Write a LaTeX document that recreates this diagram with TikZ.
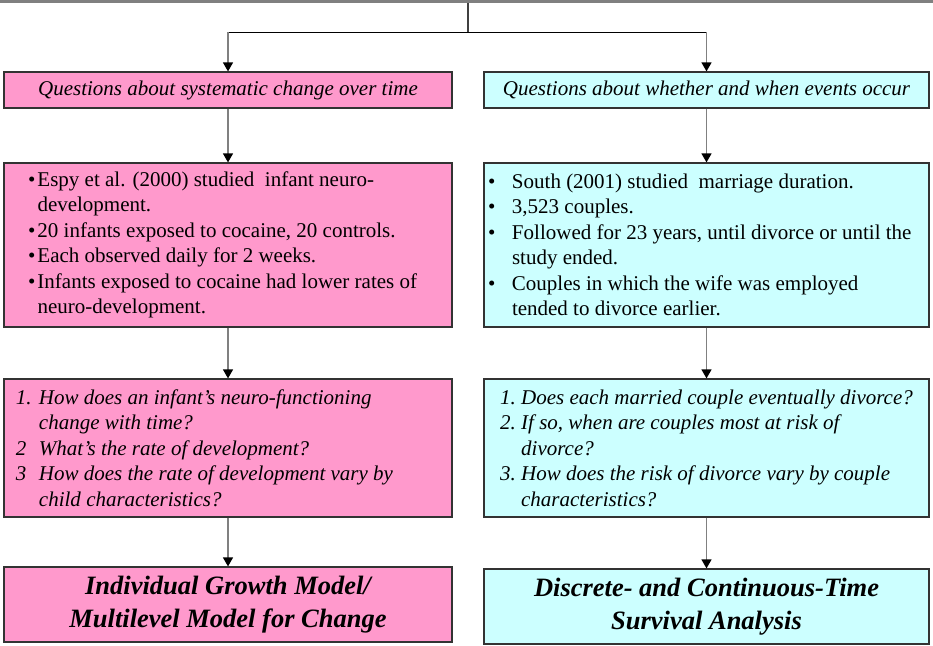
\documentclass[tikz,border=0pt]{standalone}
\usepackage{fontspec}
\setmainfont{Liberation Serif}
\usetikzlibrary{arrows.meta}
\definecolor{boxpink}{HTML}{FF99CC}
\definecolor{boxcyan}{HTML}{CCFFFF}
\newcommand{\lbl}[2]{\makebox[#1][l]{#2}}
\tikzset{
  card/.style={draw=black!80, line width=1.2pt, minimum width=448pt, inner sep=0pt},
  pinkcard/.style={card, fill=boxpink},
  cyancard/.style={card, fill=boxcyan, minimum width=445pt},
  headtxt/.style={font=\fontsize{21}{25.5}\selectfont\itshape},
  bodytxt/.style={align=flush left, font=\fontsize{21}{25.5}\selectfont},
  qtxt/.style={align=flush left, font=\fontsize{21}{25.5}\selectfont\itshape},
  modeltxt/.style={align=center, font=\fontsize{26.5}{33}\selectfont\bfseries\itshape},
  link/.style={draw=gray, line width=1.3pt, -{Triangle[length=9pt,width=10pt,color=black]}}
}
\begin{document}
\begin{tikzpicture}[x=1pt, y=-1pt]
\useasboundingbox (0,0) rectangle (933,645);
\fill[gray] (0,0) rectangle (933,3);
\coordinate (root) at (468,3);
\coordinate (fork) at (468,32);
% kinds of question
\node[pinkcard, minimum height=36pt, headtxt] (qsys) at (228,90) {Questions about systematic change over time};
\node[cyancard, minimum height=36pt, headtxt] (qevt) at (706.5,90) {Questions about whether and when events occur};
% studies
\node[pinkcard, minimum height=164pt, bodytxt, text width=400pt] (egsys) at (228,245) {\lbl{9.5pt}{\textbullet}Espy et al. (2000) studied\ \ infant neuro-\\
\lbl{9.5pt}{}development.\\
\lbl{9.5pt}{\textbullet}20 infants exposed to cocaine, 20 controls.\\
\lbl{9.5pt}{\textbullet}Each observed daily for 2 weeks.\\
\lbl{9.5pt}{\textbullet}Infants exposed to cocaine had lower rates of\\
\lbl{9.5pt}{}neuro-development.};
\node[cyancard, minimum height=164pt, bodytxt, text width=437pt] (egevt) at (706.5,245) {\lbl{24pt}{\textbullet}South (2001) studied\ \ marriage duration.\\
\lbl{24pt}{\textbullet}3,523 couples.\\
\lbl{24pt}{\textbullet}Followed for 23 years, until divorce or until the\\
\lbl{24pt}{}study ended.\\
\lbl{24pt}{\textbullet}Couples in which the wife was employed\\
\lbl{24pt}{}tended to divorce earlier.};
% research questions
\node[pinkcard, minimum height=138pt, qtxt, text width=424pt] (rqsys) at (228,448) {\lbl{23pt}{1.}How does an infant's neuro-functioning\\
\lbl{23pt}{}change with time?\\
\lbl{23pt}{2}What's the rate of development?\\
\lbl{23pt}{3}How does the rate of development vary by\\
\lbl{23pt}{}child characteristics?};
\node[cyancard, minimum height=138pt, qtxt] (rqevt) at (706.5,448) {\lbl{21pt}{1.}Does each married couple eventually divorce?\\
\lbl{21pt}{2.}If so, when are couples most at risk of\\
\lbl{21pt}{}divorce?\\
\lbl{21pt}{3.}How does the risk of divorce vary by couple\\
\lbl{21pt}{}characteristics?};
% methods
\node[pinkcard, minimum height=75pt, modeltxt] (mdsys) at (228,604.5) {Individual Growth Model/\\Multilevel Model for Change};
\node[cyancard, minimum height=75pt, modeltxt] (mdevt) at (706.5,606.5) {Discrete- and Continuous-Time\\Survival Analysis};
% connectors
\draw[draw=black!75, line width=2pt] (root) -- (fork);
\draw[line width=1pt] (fork -| qsys) -- (fork -| qevt);
\draw[link] (fork -| qsys) -- (qsys);
\draw[link] (fork -| qevt) -- (qevt);
\draw[link] (qsys) -- (egsys);
\draw[link] (qevt) -- (egevt);
\draw[link] (egsys) -- (rqsys);
\draw[link] (egevt) -- (rqevt);
\draw[link] (rqsys) -- (mdsys);
\draw[link] (rqevt) -- (mdevt);
\end{tikzpicture}
\end{document}
